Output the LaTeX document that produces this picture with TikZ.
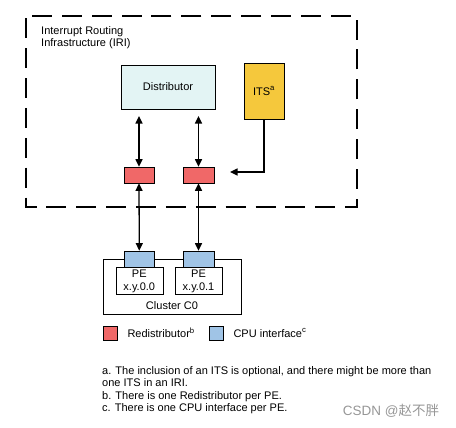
\documentclass[tikz,border=0pt]{standalone}
\usepackage{fontspec}
\setmainfont{Liberation Sans}
\newfontfamily\cjkfont{Noto Sans CJK SC}
\usetikzlibrary{arrows.meta,positioning}
\definecolor{distcyan}{RGB}{227,244,244}
\definecolor{itsyellow}{RGB}{245,200,60}
\definecolor{redistred}{RGB}{240,104,104}
\definecolor{cpublue}{RGB}{160,196,230}
\definecolor{markgray}{RGB}{150,150,150}
\tikzstyle{arrow} = [line width=1.1pt,-{Triangle[length=6.5pt,width=6pt]}]
\tikzstyle{darrow} = [line width=1.1pt,{Triangle[length=6.5pt,width=6pt]}-{Triangle[length=6.5pt,width=6pt]}]
\tikzstyle{box} = [rectangle, draw=black, line width=0.5pt, inner sep=0pt]

\begin{document}
\begin{tikzpicture}[x=0.03cm, y=-0.03cm, font=\fontsize{9.4}{10.7}\selectfont]
    \useasboundingbox (0,0) rectangle (456,428);

    % IRI frame
    \draw[line width=1.1pt, dash pattern=on 17pt off 8.5pt, dash phase=-2pt] (26,16) rectangle (357,207);
    \node[anchor=north west, align=left, inner sep=0pt] (iri) at (41,26) {Interrupt Routing\\Infrastructure (IRI)};

    % Distributor and ITS
    \node[box, fill=distcyan, minimum width=2.82cm, minimum height=1.32cm] (dist) at (168,87) {Distributor};
    \node[box, fill=itsyellow, minimum width=1.2cm, minimum height=1.68cm] (its) at (264,91) {ITS\textsuperscript{a}};

    % Redistributors
    \node[box, fill=redistred, minimum width=0.9cm, minimum height=0.48cm] (redl) at (139,175) {};
    \node[box, fill=redistred, minimum width=0.92cm, minimum height=0.48cm] (redr) at (198.5,175) {};

    % Cluster
    \node[box, minimum width=4.14cm, minimum height=1.65cm] (cluster) at (172,286.5) {};
    \node[inner sep=0pt] (clname) at (172,306) {Cluster C0};
    \node[box, fill=cpublue, minimum width=0.9cm, minimum height=0.48cm] (cpul) at (139.3,259) {};
    \node[box, fill=cpublue, minimum width=0.92cm, minimum height=0.48cm] (cpur) at (198.5,259) {};
    \node[box, fill=white, minimum width=1.41cm, minimum height=0.81cm, align=center, below=0pt of cpul] (pel) {PE\\x.y.0.0};
    \node[box, fill=white, minimum width=1.41cm, minimum height=0.81cm, align=center, below=0pt of cpur] (per) {PE\\x.y.0.1};

    % Connections
    \draw[darrow, shorten <=0.2cm] (redl.north |- dist.south) -- (redl.north);
    \draw[darrow, shorten <=0.2cm] (redr.north |- dist.south) -- (redr.north);
    \draw[darrow] (redl.south) -- (cpul.north);
    \draw[darrow] (redr.south) -- (cpur.north);
    \coordinate (itsend) at (230,172);
    \draw[arrow] (its.south) |- (itsend);

    % Legend
    \node[box, fill=redistred, minimum size=0.42cm] (keyred) at (110,333) {};
    \node[right=0.3cm of keyred, inner sep=0pt] (keyredtxt) {Redistributor\textsuperscript{b}};
    \node[box, fill=cpublue, minimum size=0.42cm] (keyblue) at (216,333) {};
    \node[right=0.3cm of keyblue, inner sep=0pt] (keybluetxt) {CPU interface\textsuperscript{c}};

    % Notes
    \node[anchor=north west, align=left, inner sep=0pt] (notes) at (102,366) {
        a. The inclusion of an ITS is optional, and there might be more than\\
        one ITS in an IRI.\\
        b. There is one Redistributor per PE.\\
        c. There is one CPU interface per PE.
    };
    \node[text=markgray, font=\fontsize{11.5}{13}\selectfont, inner sep=0pt] (mark) at (391,411) {CSDN @{\cjkfont 赵不胖}};
\end{tikzpicture}
\end{document}
